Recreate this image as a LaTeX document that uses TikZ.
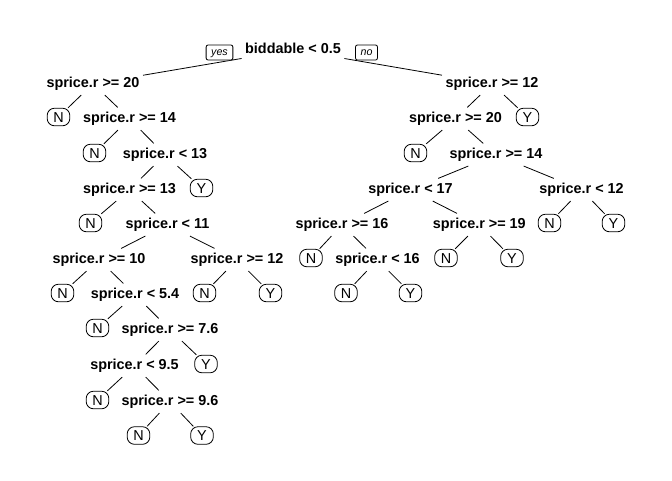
\documentclass[tikz,border=0pt]{standalone}
\usepackage{fontspec}
\setmainfont{Liberation Sans}
\begin{document}
\begin{tikzpicture}[x=0.75pt,y=-0.75pt,
  split/.style={font=\bfseries\fontsize{10.8}{12}\selectfont, text height=7.6pt, text depth=2.2pt, inner xsep=2.5pt, inner ysep=3.4pt, yshift=-1.3pt},
  leaf/.style={draw, rounded corners=5.5pt, font=\fontsize{10.8}{12}\selectfont, text height=7.6pt, text depth=0pt, minimum width=17pt, inner xsep=3pt, inner ysep=2.8pt, line width=0.6pt},
  edge/.style={line width=0.6pt},
  yn/.style={draw, fill=white, rounded corners=1.5pt, line width=0.6pt, font=\itshape\fontsize{8}{9}\selectfont, inner xsep=3.8pt, inner ysep=1.9pt, text height=5.8pt, text depth=1.7pt}]
\useasboundingbox (0,0) rectangle (672,480);
% root
\node[split] (r) at (293,48) {biddable < 0.5};
% left subtree
\node[split] (a1) at (93,82) {sprice.r >= 20};
\node[leaf] (a1n) at (58.5,117) {N};
\node[split] (a2) at (129.5,117) {sprice.r >= 14};
\node[leaf] (a2n) at (94.5,153) {N};
\node[split] (a3) at (165,153) {sprice.r < 13};
\node[split] (a4) at (129.5,188) {sprice.r >= 13};
\node[leaf] (a3y) at (201.5,188) {Y};
\node[leaf] (a4n) at (90.5,223) {N};
\node[split] (a5) at (167.5,223) {sprice.r < 11};
\node[split] (a6) at (99,258) {sprice.r >= 10};
\node[split] (a11) at (237,258) {sprice.r >= 12};
\node[leaf] (a6n) at (62.5,293) {N};
\node[split] (a7) at (135,293) {sprice.r < 5.4};
\node[leaf] (a11n) at (204.5,293) {N};
\node[leaf] (a11y) at (270.5,293) {Y};
\node[leaf] (a7n) at (97.5,328) {N};
\node[split] (a8) at (170,328) {sprice.r >= 7.6};
\node[split] (a9) at (134.5,364) {sprice.r < 9.5};
\node[leaf] (a8y) at (206,364) {Y};
\node[leaf] (a9n) at (97.5,400) {N};
\node[split] (a10) at (170,400) {sprice.r >= 9.6};
\node[leaf] (a10n) at (138.5,435.5) {N};
\node[leaf] (a10y) at (202,435.5) {Y};
% right subtree
\node[split] (b1) at (492,82) {sprice.r >= 12};
\node[split] (b2) at (455.5,117) {sprice.r >= 20};
\node[leaf] (b1y) at (527.5,117) {Y};
\node[leaf] (b2n) at (415.5,153) {N};
\node[split] (b3) at (496,153) {sprice.r >= 14};
\node[split] (b4) at (410.5,188) {sprice.r < 17};
\node[split] (b8) at (581.5,188) {sprice.r < 12};
\node[split] (b5) at (342,223) {sprice.r >= 16};
\node[split] (b7) at (479.3,223) {sprice.r >= 19};
\node[leaf] (b8n) at (549.5,223) {N};
\node[leaf] (b8y) at (613.5,223) {Y};
\node[leaf] (b5n) at (311,258) {N};
\node[split] (b6) at (377.5,258) {sprice.r < 16};
\node[leaf] (b7n) at (446,258) {N};
\node[leaf] (b7y) at (512,258) {Y};
\node[leaf] (b6n) at (346,293) {N};
\node[leaf] (b6y) at (410.5,293) {Y};
% edges
\draw[edge] (r) -- (a1);
\draw[edge] (r) -- (b1);
\foreach \p/\c in {a1/a1n,a1/a2,a2/a2n,a2/a3,a3/a4,a3/a3y,a4/a4n,a4/a5,a5/a6,a5/a11,a6/a6n,a6/a7,a11/a11n,a11/a11y,a7/a7n,a7/a8,a8/a9,a8/a8y,a9/a9n,a9/a10,a10/a10n,a10/a10y,
  b1/b2,b1/b1y,b2/b2n,b2/b3,b3/b4,b3/b8,b4/b5,b4/b7,b8/b8n,b8/b8y,b5/b5n,b5/b6,b7/b7n,b7/b7y,b6/b6n,b6/b6y}
  \draw[edge] (\p) -- (\c);
% yes / no labels
\node[yn] (yes) at (219.5,52.5) {yes};
\node[yn] (no) at (366.5,52.5) {no};
\end{tikzpicture}
\end{document}
